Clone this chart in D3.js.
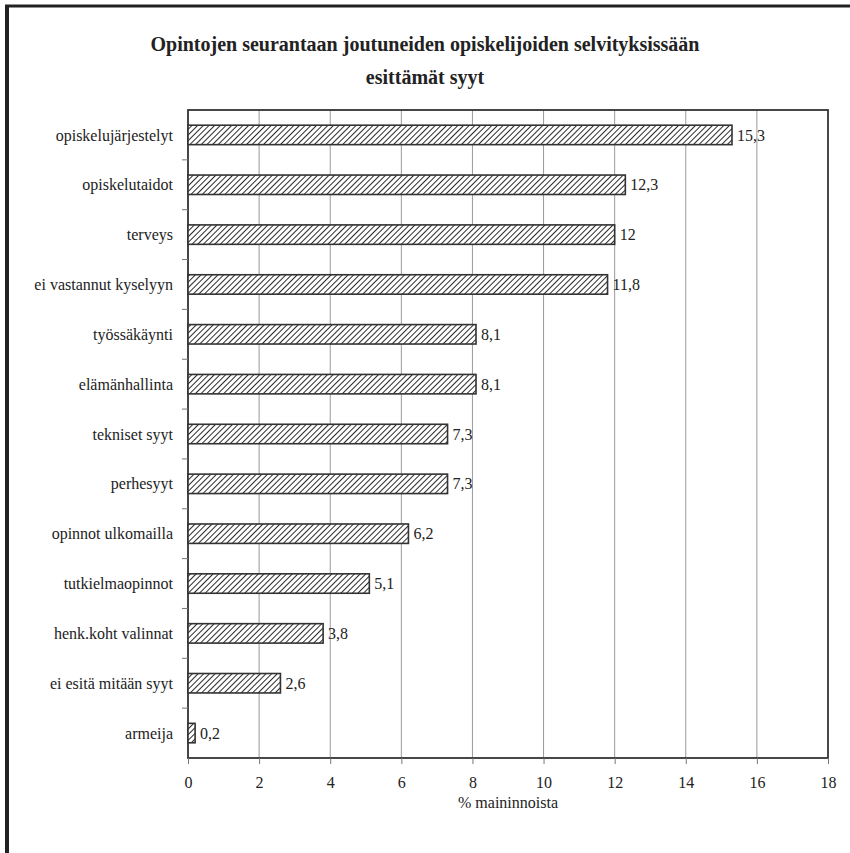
<!DOCTYPE html>
<html>
<head>
<meta charset="utf-8">
<script src="https://cdn.jsdelivr.net/npm/d3@7"></script>
<style>
    body { margin: 0; background: #fff; }
    svg text { font-family: "Liberation Serif", "DejaVu Serif", serif; }
</style>
</head>
<body>
<div id="chart"></div>
<script>
// Data
const categories = [
    "opiskelujärjestelyt", "opiskelutaidot", "terveys", "ei vastannut kyselyyn",
    "työssäkäynti", "elämänhallinta", "tekniset syyt", "perhesyyt",
    "opinnot ulkomailla", "tutkielmaopinnot", "henk.koht valinnat",
    "ei esitä mitään syyt", "armeija"
];
const values = [15.3, 12.3, 12, 11.8, 8.1, 8.1, 7.3, 7.3, 6.2, 5.1, 3.8, 2.6, 0.2];
const xTicks = [0, 2, 4, 6, 8, 10, 12, 14, 16, 18];
const titleLines = ["Opintojen seurantaan joutuneiden opiskelijoiden selvityksissään", "esittämät syyt"];
const xLabel = "% maininnoista";

const width = 850, height = 853;
const margin = { top: 110, right: 22, bottom: 95, left: 188 };
const FONT = "Liberation Serif, DejaVu Serif, serif";

const svg = d3.select("#chart").append("svg")
    .attr("width", width)
    .attr("height", height);

// hatch pattern for bars
const defs = svg.append("defs");
const pat = defs.append("pattern")
    .attr("id", "hatch")
    .attr("patternUnits", "userSpaceOnUse")
    .attr("width", 4)
    .attr("height", 4)
    .attr("patternTransform", "rotate(45)");
pat.append("rect").attr("width", 4).attr("height", 4).attr("fill", "#fff");
pat.append("line")
    .attr("x1", 0).attr("y1", 0).attr("x2", 0).attr("y2", 4)
    .attr("stroke", "#2a2a2a").attr("stroke-width", 2);

// outer frame (top + left only, picture is cropped)
svg.append("line").attr("x1", 5).attr("x2", width).attr("y1", 6).attr("y2", 6)
    .attr("stroke", "#222").attr("stroke-width", 3);
svg.append("line").attr("x1", 7).attr("x2", 7).attr("y1", 5).attr("y2", height)
    .attr("stroke", "#222").attr("stroke-width", 4);

// title
svg.append("g").selectAll("text")
    .data(titleLines)
    .join("text")
    .attr("x", 425)
    .attr("y", (d, i) => 51 + i * 33)
    .attr("text-anchor", "middle")
    .attr("font-family", FONT)
    .attr("font-size", 20)
    .attr("font-weight", "bold")
    .attr("fill", "#222")
    .text(d => d);

const plotW = width - margin.left - margin.right;
const plotH = height - margin.top - margin.bottom;

const x = d3.scaleLinear().domain([0, 18]).range([margin.left, margin.left + plotW]);
const y = d3.scaleBand().domain(categories).range([margin.top, margin.top + plotH]).paddingInner(0.61).paddingOuter(0.305);

// gridlines
svg.append("g").selectAll("line")
    .data(xTicks.slice(1, -1))
    .join("line")
    .attr("x1", d => x(d)).attr("x2", d => x(d))
    .attr("y1", margin.top).attr("y2", margin.top + plotH)
    .attr("stroke", "#999").attr("stroke-width", 1);

// plot border
svg.append("rect")
    .attr("x", margin.left).attr("y", margin.top)
    .attr("width", plotW).attr("height", plotH)
    .attr("fill", "none").attr("stroke", "#333").attr("stroke-width", 1.8);

// x axis ticks and labels
const xAxis = svg.append("g")
    .attr("transform", `translate(0,${margin.top + plotH})`)
    .call(d3.axisBottom(x).tickValues(xTicks).tickSize(6).tickPadding(13).tickFormat(d3.format("d")));
xAxis.attr("font-family", FONT).attr("font-size", 16);
xAxis.select(".domain").remove();
xAxis.selectAll(".tick line").attr("stroke", "#777");
xAxis.selectAll(".tick text").attr("fill", "#222");

// y axis ticks at band boundaries
const step = y.step();
const boundaries = d3.range(1, categories.length).map(i => margin.top + i * step);
svg.append("g").selectAll("line")
    .data(boundaries)
    .join("line")
    .attr("x1", margin.left - 6).attr("x2", margin.left)
    .attr("y1", d => d).attr("y2", d => d)
    .attr("stroke", "#777");

// category labels
svg.append("g").selectAll("text")
    .data(categories)
    .join("text")
    .attr("x", margin.left - 15)
    .attr("y", d => y(d) + y.bandwidth() / 2)
    .attr("dy", "0.35em")
    .attr("text-anchor", "end")
    .attr("font-family", FONT)
    .attr("font-size", 16)
    .attr("fill", "#222")
    .text(d => d);

// bars
svg.append("g").selectAll("rect")
    .data(values)
    .join("rect")
    .attr("x", x(0))
    .attr("y", (d, i) => y(categories[i]))
    .attr("width", d => x(d) - x(0))
    .attr("height", y.bandwidth())
    .attr("fill", "url(#hatch)")
    .attr("stroke", "#333")
    .attr("stroke-width", 1.6);

// value labels
svg.append("g").selectAll("text")
    .data(values)
    .join("text")
    .attr("x", d => x(d) + 5)
    .attr("y", (d, i) => y(categories[i]) + y.bandwidth() / 2)
    .attr("dy", "0.35em")
    .attr("font-family", FONT)
    .attr("font-size", 16)
    .attr("fill", "#222")
    .text(d => String(d).replace(".", ","));

// x axis title
svg.append("text")
    .attr("x", margin.left + plotW / 2)
    .attr("y", 808)
    .attr("text-anchor", "middle")
    .attr("font-family", FONT)
    .attr("font-size", 16)
    .attr("fill", "#222")
    .text(xLabel);
</script>
</body>
</html>
